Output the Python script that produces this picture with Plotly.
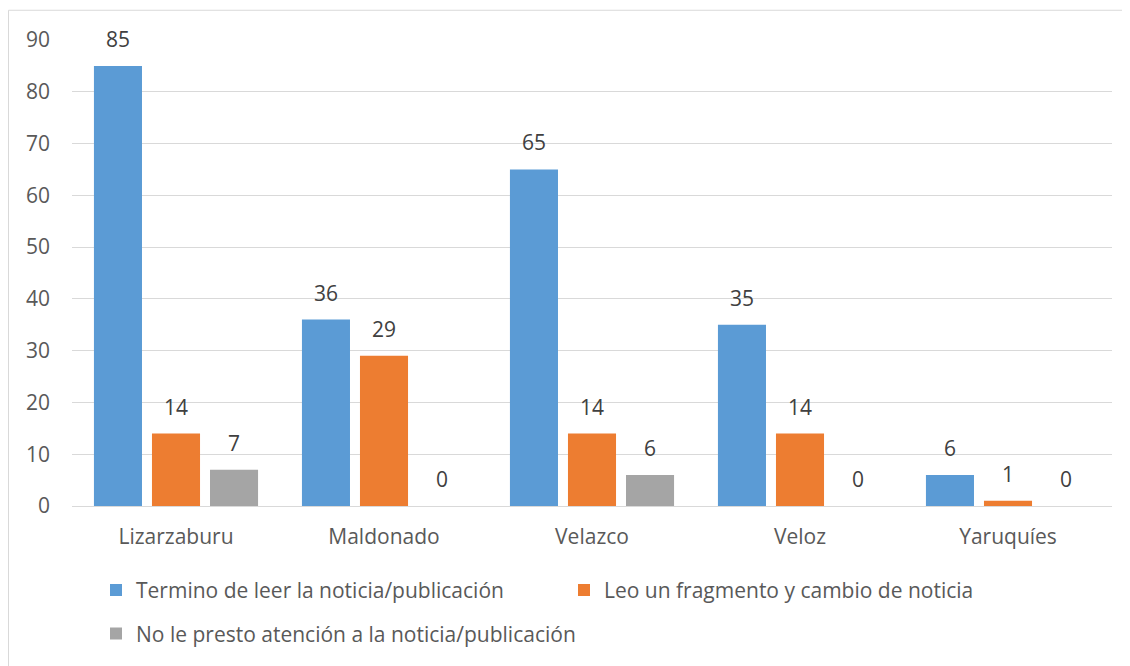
import plotly.graph_objects as go

categories = ["Lizarzaburu", "Maldonado", "Velazco", "Veloz", "Yaruquíes"]
series_names = [
    "Termino de leer la noticia/publicación",
    "Leo un fragmento y cambio de noticia",
    "No le presto atención a la noticia/publicación",
]
termino = [85, 36, 65, 35, 6]
fragmento = [14, 29, 14, 14, 1]
no_atencion = [7, 0, 6, 0, 0]
colors = ["#5B9BD5", "#ED7D31", "#A5A5A5"]
legend_ids = ["legend", "legend", "legend2"]

FONT = "Open Sans, sans-serif"
TXT = "#595959"
FS = 21

# figure sits at an 8px body offset in the page
W, H = 1122, 658
L, R, T, B = 64, 18, 32, 156
pw, ph = W - L - R, H - T - B

fig = go.Figure()
for name, vals, col, lg in zip(series_names, [termino, fragmento, no_atencion], colors, legend_ids):
    fig.add_trace(go.Bar(
        x=categories, y=vals, name=name,
        marker=dict(color=col, line=dict(width=0)),
        legend=lg,
    ))

# data labels
bar_offsets = [-58, 0, 58]
annotations = []
for vals, dx in zip([termino, fragmento, no_atencion], bar_offsets):
    for c, v in zip(categories, vals):
        annotations.append(dict(
            x=c, y=v, xref="x", yref="y", text=str(v), showarrow=False,
            xshift=dx, yshift=27, yanchor="middle", xanchor="center",
            font=dict(size=FS, color="#404040", family=FONT),
        ))

fig.update_layout(
    width=W, height=H,
    margin=dict(l=L, r=R, t=T, b=B),
    paper_bgcolor="white", plot_bgcolor="white",
    barmode="group", bargap=0.163, bargroupgap=0.172,
    font=dict(family=FONT, size=FS, color=TXT),
    showlegend=True,
    legend=dict(
        orientation="h", x=(88 - L) / pw, xanchor="left",
        y=(T + ph - 587) / ph, yanchor="middle",
        entrywidth=423, entrywidthmode="pixels",
        font=dict(size=FS, color=TXT, family=FONT),
        itemwidth=30, bgcolor="rgba(0,0,0,0)",
    ),
    legend2=dict(
        orientation="h", x=(88 - L) / pw, xanchor="left",
        y=(T + ph - 631) / ph, yanchor="middle",
        font=dict(size=FS, color=TXT, family=FONT),
        itemwidth=30, bgcolor="rgba(0,0,0,0)",
    ),
    xaxis=dict(showgrid=False, showline=True, linecolor="#D9D9D9", linewidth=1,
               ticks="", tickfont=dict(size=FS, color=TXT), ticklabelstandoff=12),
    yaxis=dict(range=[0, 90], dtick=10, showgrid=True, gridcolor="#D9D9D9",
               gridwidth=1, zeroline=False, showline=False, ticks="",
               tickfont=dict(size=FS, color=TXT), ticklabelstandoff=21),
    annotations=annotations,
    shapes=[dict(type="rect", xref="paper", yref="paper",
                 x0=(0.5 - L) / pw, x1=(1119 - L) / pw,
                 y0=(T + ph - 670) / ph, y1=(T + ph - 2) / ph,
                 line=dict(color="#D9D9D9", width=1), fillcolor="rgba(0,0,0,0)",
                 layer="below")],
)

fig.write_html("out.html")
